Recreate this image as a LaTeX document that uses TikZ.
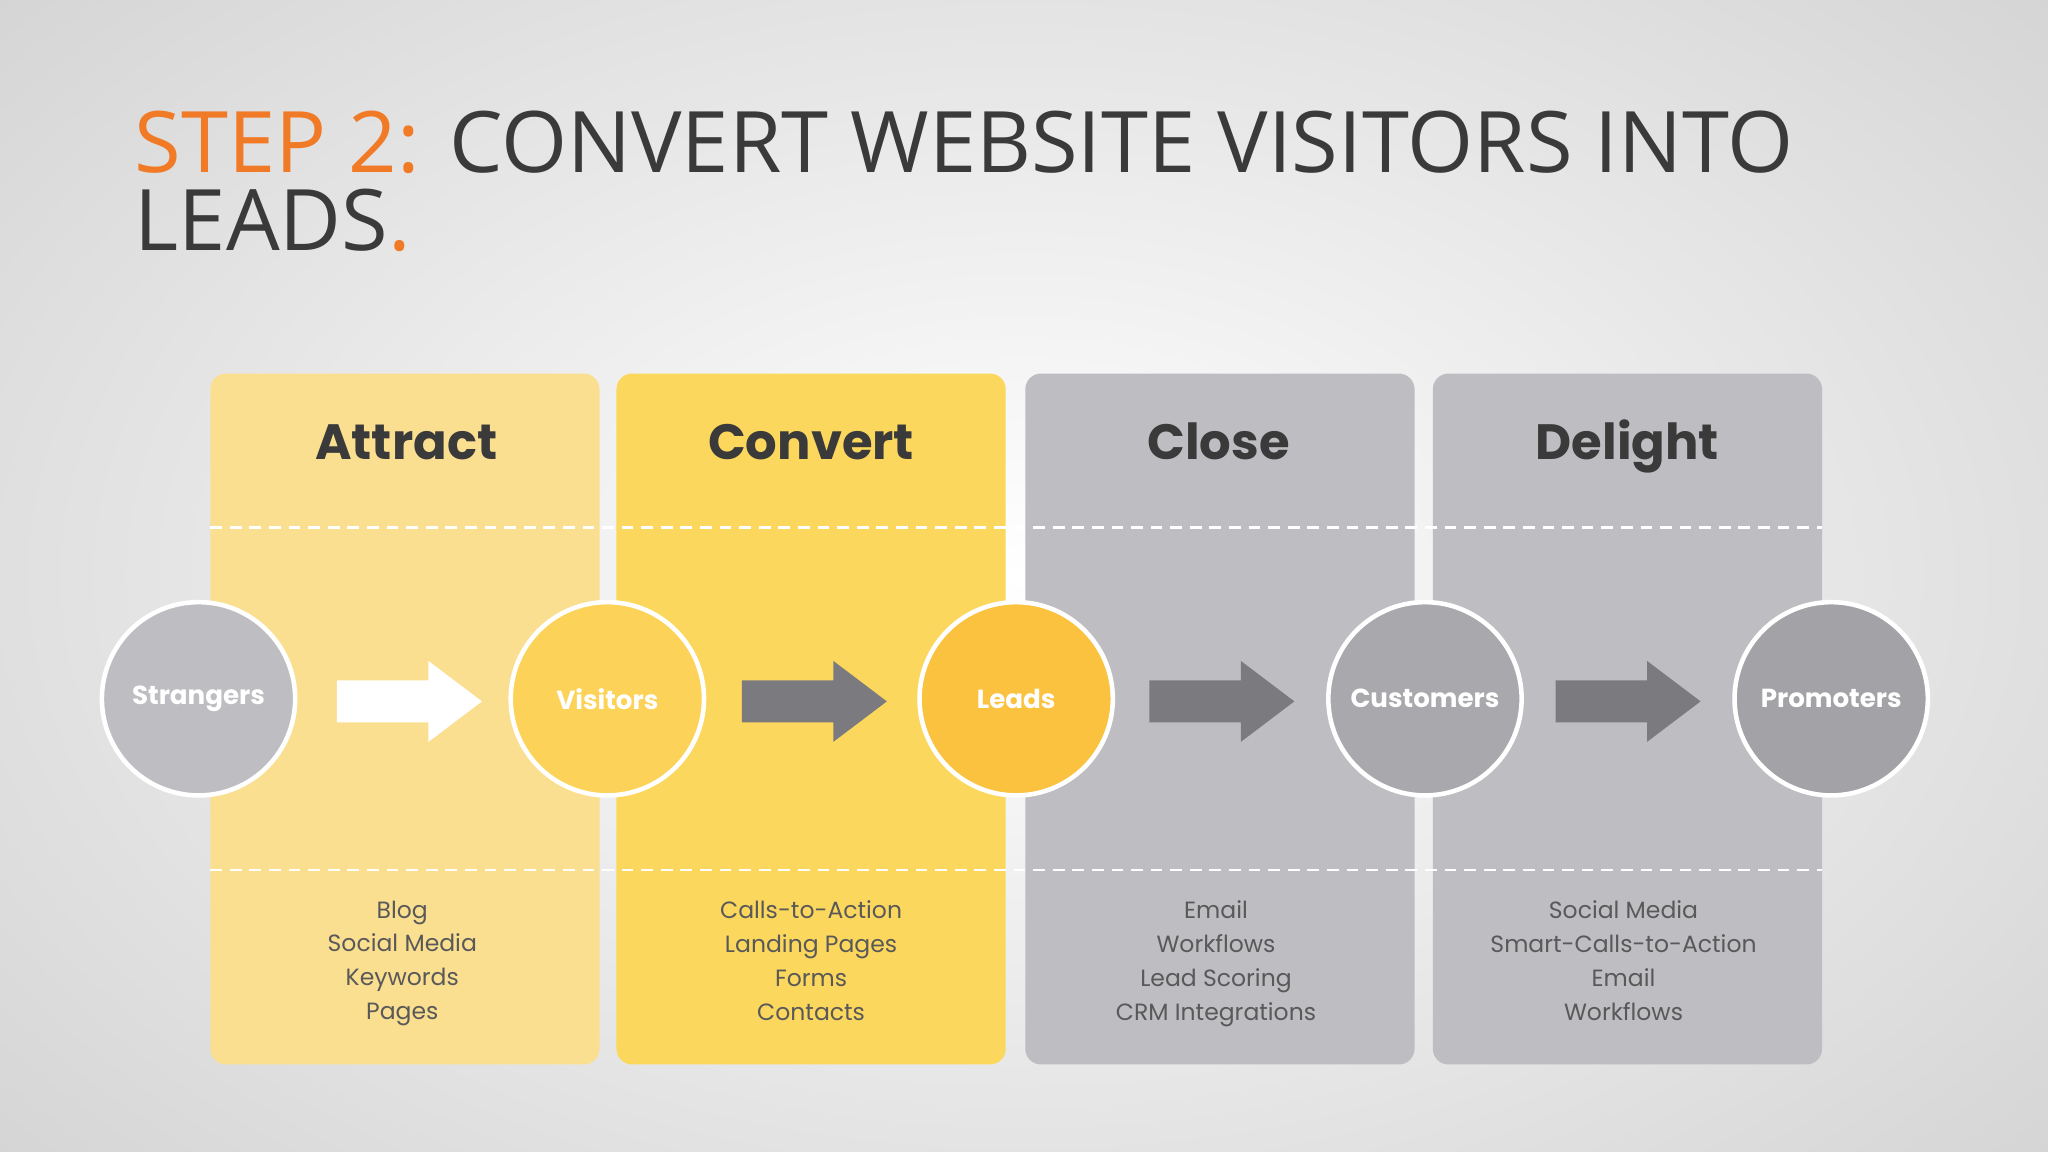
\documentclass[tikz,border=0pt]{standalone}
\usepackage{fontspec}
\setmainfont{Open Sans}
\newfontfamily\pop{Poppins}
\definecolor{cA}{HTML}{FBDF90}
\definecolor{cC}{HTML}{FCD75D}
\definecolor{cG}{HTML}{BEBDC1}
\definecolor{ora}{HTML}{F07A26}
\definecolor{dk}{HTML}{3A3A3A}
\definecolor{ar}{HTML}{7B7A7E}
\newcommand{\blkarr}[2]{\fill[#2] (#1-55,521) -- (#1+15,521) -- (#1+15,506) -- (#1+56,537) -- (#1+15,568) -- (#1+15,553) -- (#1-55,553) -- cycle;}
\tikzset{
 col/.style={rounded corners=12pt},
 hd/.style={font=\pop\fontsize{38}{44}\selectfont\bfseries, text=dk, anchor=base},
 lst/.style={font=\pop\fontsize{18}{26}\selectfont, text=black!65, align=center, anchor=north},
 circ/.style={circle, draw=white, line width=3.5pt, minimum size=148pt, inner sep=0pt, text=white, font=\pop\fontsize{20}{24}\selectfont\bfseries},
 dl/.style={white, line width=2pt, dash pattern=on 9pt off 6pt}
}
\begin{document}
\begin{tikzpicture}[x=1pt,y=-1pt]
\useasboundingbox (0,0) rectangle (1568,882);
\shade[inner color=white, outer color=black!17] (-300,-250) rectangle (1868,1132);
\node[anchor=base west, inner sep=0pt, font=\fontsize{65}{60}\selectfont, text=dk, align=left] (t) at (103,192) {\textcolor{ora}{STEP 2:} CONVERT WEBSITE VISITORS INTO\\LEADS\textcolor{ora}{.}};
\fill[cA,col] (161,286) rectangle (459,815);
\fill[cC,col] (472,286) rectangle (770,815);
\fill[cG,col] (785,286) rectangle (1083,815);
\fill[cG,col] (1097,286) rectangle (1395,815);
\draw[dl] (161,404) -- (1395,404);
\draw[dl] (161,666) -- (1395,666);
\node[hd] (h1) at (311,352) {Attract};
\node[hd] (h2) at (621,352) {Convert};
\node[hd] (h3) at (933,352) {Close};
\node[hd] (h4) at (1246,352) {Delight};
\node[circ, fill=cG] (s) at (152,535) {Strangers};
\node[circ, fill=cC!95!orange] (v) at (465,535) {Visitors};
\node[circ, fill={rgb,255:red,251;green,194;blue,64}] (l) at (778,535) {Leads};
\node[circ, fill={rgb,255:red,169;green,168;blue,172}] (c) at (1091,535) {Customers};
\node[circ, fill={rgb,255:red,163;green,162;blue,166}] (p) at (1402,535) {Promoters};
\blkarr{313}{white}
\blkarr{623}{ar}
\blkarr{935}{ar}
\blkarr{1246}{ar}
\node[lst] (b1) at (308,686) {Blog\\Social Media\\Keywords\\Pages};
\node[lst] (b2) at (621,686) {Calls-to-Action\\Landing Pages\\Forms\\Contacts};
\node[lst] (b3) at (931,686) {Email\\Workflows\\Lead Scoring\\CRM Integrations};
\node[lst] (b4) at (1243,686) {Social Media\\Smart-Calls-to-Action\\Email\\Workflows};
\end{tikzpicture}
\end{document}
